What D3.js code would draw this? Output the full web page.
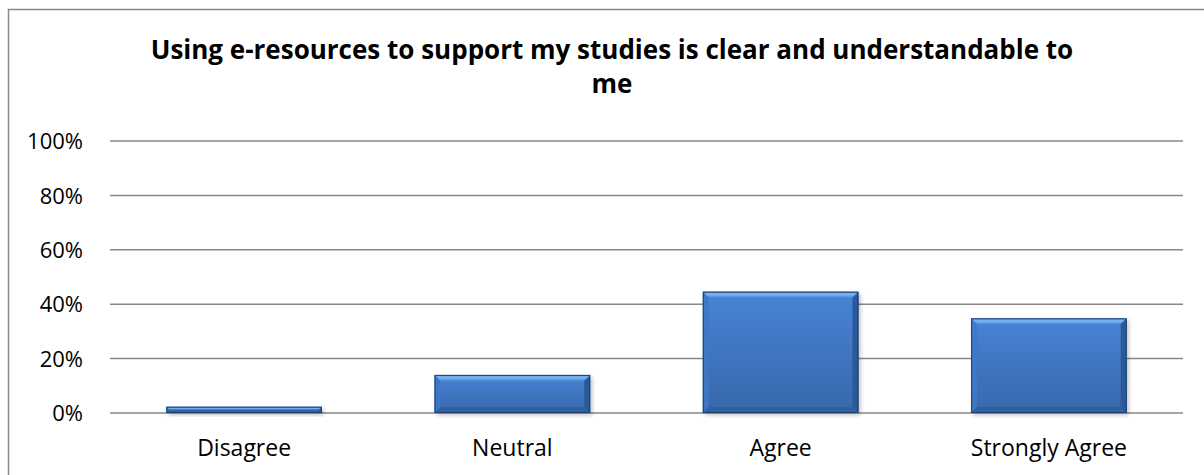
<!DOCTYPE html>
<html>
<head>
<meta charset="utf-8">
<script src="https://cdn.jsdelivr.net/npm/d3@7"></script>
<style>
  html, body { margin: 0; padding: 0; background: #fff; }
  svg { display: block; }
</style>
</head>
<body>
<svg id="chart" width="1204" height="475"></svg>
<script>
const categories = ["Disagree", "Neutral", "Agree", "Strongly Agree"];
const values = [2.3, 14, 44.6, 34.8];
const yTicks = [0, 20, 40, 60, 80, 100];
const titleLines = ["Using e-resources to support my studies is clear and understandable to", "me"];

const svg = d3.select("#chart");
const W = 1204, H = 475;
const plot = { left: 110, right: 1183, top: 141, bottom: 413 };
const font = "'Open Sans', 'Noto Sans', sans-serif";

// outer chart border
svg.append("rect")
  .attr("x", 8.5).attr("y", 9.5)
  .attr("width", W + 20).attr("height", H + 20)
  .attr("fill", "#fff").attr("stroke", "#878787").attr("stroke-width", 1.5);

const x = d3.scaleBand().domain(categories).range([plot.left, plot.right])
  .paddingInner(0.42).paddingOuter(0.21);
const y = d3.scaleLinear().domain([0, 100]).range([plot.bottom, plot.top]);

// defs
const defs = svg.append("defs");
const g1 = defs.append("linearGradient").attr("id", "barFill").attr("x1", 0).attr("y1", 0).attr("x2", 0).attr("y2", 1);
g1.append("stop").attr("offset", "0%").attr("stop-color", "#4784d6");
g1.append("stop").attr("offset", "100%").attr("stop-color", "#3868ab");
const gTop = defs.append("linearGradient").attr("id", "topBevel").attr("x1", 0).attr("y1", 0).attr("x2", 0).attr("y2", 1);
gTop.append("stop").attr("offset", "0%").attr("stop-color", "#5d9be6");
gTop.append("stop").attr("offset", "45%").attr("stop-color", "#7cb6f4");
gTop.append("stop").attr("offset", "100%").attr("stop-color", "#4b87d6");
const shadow = defs.append("filter").attr("id", "shadow").attr("x", "-10%").attr("y", "-10%").attr("width", "130%").attr("height", "130%");
shadow.append("feGaussianBlur").attr("stdDeviation", 2);

// gridlines
const grid = svg.append("g");
grid.selectAll("line").data(yTicks).join("line")
  .attr("x1", plot.left).attr("x2", plot.right)
  .attr("y1", d => y(d)).attr("y2", d => y(d))
  .attr("stroke", "#878787").attr("stroke-width", 1.5);

// y axis labels
const yAxis = d3.axisLeft(y).tickValues(yTicks).tickFormat(d => d + "%").tickSize(0).tickPadding(0);
const ya = svg.append("g").attr("transform", `translate(83,0)`).call(yAxis);
ya.select(".domain").remove();
ya.selectAll("text").attr("font-family", font).attr("font-size", 22).attr("fill", "#000").attr("dy", "0.35em");

// x axis labels
const xAxis = d3.axisBottom(x).tickSize(0).tickPadding(0);
const xa = svg.append("g").attr("transform", `translate(0,456)`).call(xAxis);
xa.select(".domain").remove();
xa.selectAll("text").attr("font-family", font).attr("font-size", 23).attr("fill", "#000").attr("dy", 0);

// bars
const bars = svg.append("g").selectAll("g").data(categories.map((c, i) => ({ c, v: values[i] }))).join("g");
bars.each(function(d) {
  const g = d3.select(this);
  const x0 = x(d.c), w = x.bandwidth();
  const y0 = y(d.v), y1 = y(0), h = y1 - y0;
  const b = Math.min(6, h / 2);
  g.append("rect").attr("x", x0 + 2).attr("y", y0 + 2).attr("width", w).attr("height", h)
    .attr("fill", "#000").attr("opacity", 0.25).attr("filter", "url(#shadow)");
  g.append("rect").attr("x", x0).attr("y", y0).attr("width", w).attr("height", h).attr("fill", "url(#barFill)");
  // top bevel
  g.append("polygon").attr("points", [[x0, y0], [x0 + w, y0], [x0 + w - b, y0 + b], [x0 + b, y0 + b]].join(" "))
    .attr("fill", "url(#topBevel)");
  // left bevel
  g.append("polygon").attr("points", [[x0, y0], [x0 + b, y0 + b], [x0 + b, y1 - b], [x0, y1]].join(" "))
    .attr("fill", "#3f78c4").attr("opacity", 0.9);
  // right bevel
  g.append("polygon").attr("points", [[x0 + w, y0], [x0 + w, y1], [x0 + w - b, y1 - b], [x0 + w - b, y0 + b]].join(" "))
    .attr("fill", "#2c5a99");
  // bottom bevel
  g.append("polygon").attr("points", [[x0, y1], [x0 + b, y1 - b], [x0 + w - b, y1 - b], [x0 + w, y1]].join(" "))
    .attr("fill", "#30609f");
  g.append("rect").attr("x", x0 + 0.5).attr("y", y0 + 0.5).attr("width", w - 1).attr("height", Math.max(0, h - 1))
    .attr("fill", "none").attr("stroke", "#1d3f6e").attr("stroke-width", 1);
});

// title
const title = svg.append("g");
const tl = title.selectAll("text").data(titleLines).join("text")
  .attr("x", 612).attr("y", (d, i) => 59 + i * 34)
  .attr("text-anchor", "middle")
  .attr("font-family", font).attr("font-weight", "bold").attr("font-size", 24)
  .attr("fill", "#000").text(d => d);
// fit first line width to the reference
const len = tl.node().getComputedTextLength();
const fs = 24 * 933 / len;
tl.attr("font-size", Math.min(26, Math.max(20, fs)));
</script>
</body>
</html>
